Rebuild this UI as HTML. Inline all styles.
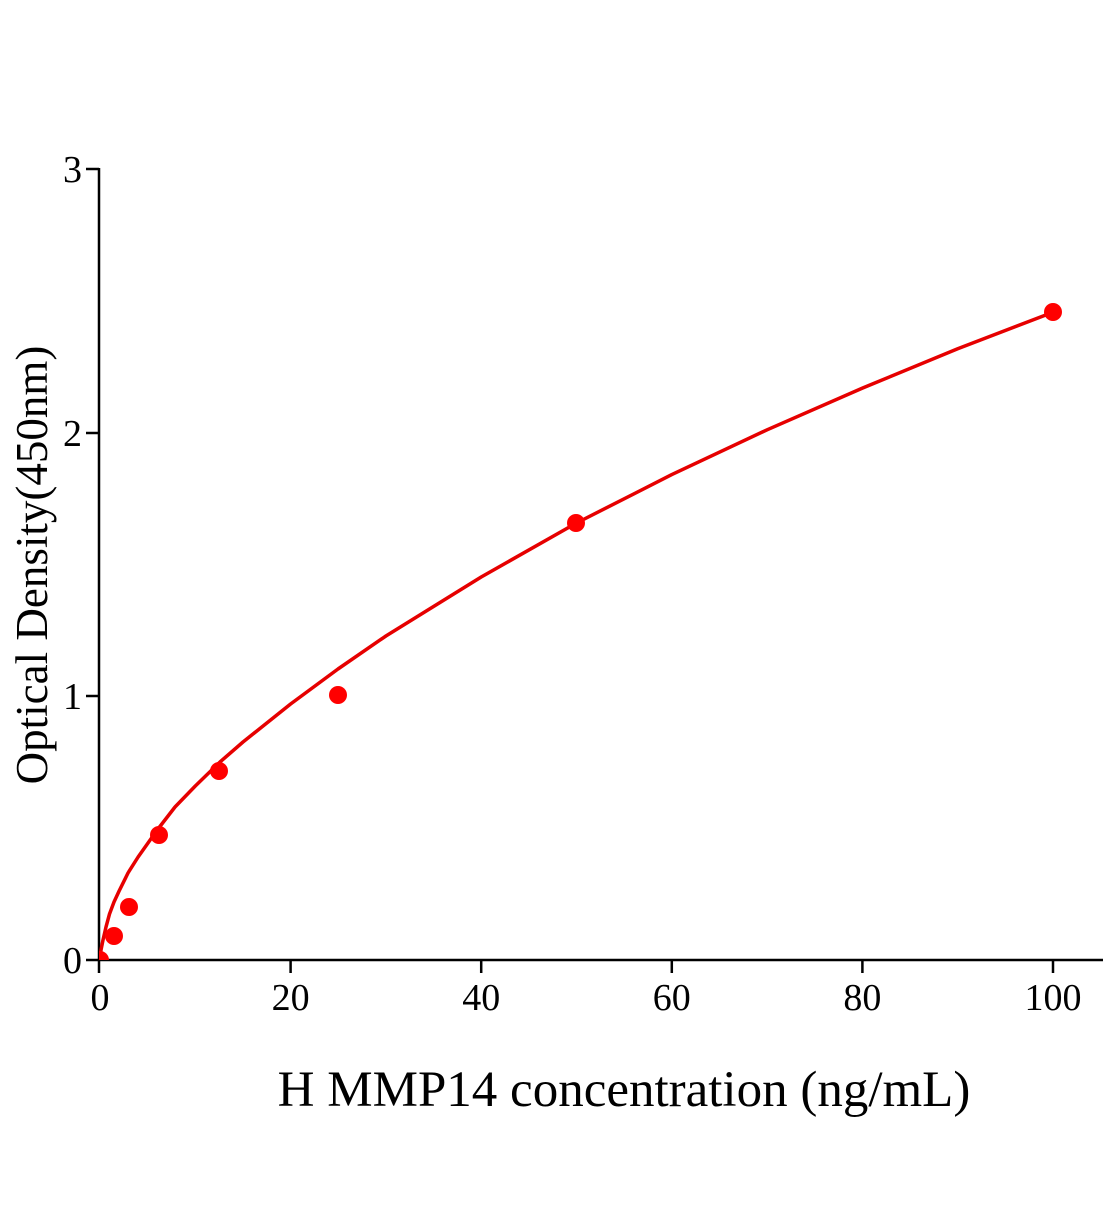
<!DOCTYPE html><html><head><style>body{margin:0;background:#fff}</style></head><body>
<svg width="1104" height="1200" xmlns="http://www.w3.org/2000/svg" font-family="Liberation Serif, serif">
<defs><clipPath id="c"><rect x="99" y="100" width="1010" height="860"/></clipPath></defs>
<g stroke="#000" stroke-width="2.5" fill="none">
<line x1="99" y1="168" x2="99" y2="961"/>
<line x1="86" y1="960" x2="1103" y2="960"/>
<line x1="86" y1="696" x2="99" y2="696"/>
<line x1="86" y1="433" x2="99" y2="433"/>
<line x1="86" y1="169" x2="99" y2="169"/>
<line x1="99" y1="960" x2="99" y2="973"/>
<line x1="290.6" y1="960" x2="290.6" y2="973"/>
<line x1="481.2" y1="960" x2="481.2" y2="973"/>
<line x1="671.8" y1="960" x2="671.8" y2="973"/>
<line x1="862.4" y1="960" x2="862.4" y2="973"/>
<line x1="1053" y1="960" x2="1053" y2="973"/>
</g>
<g font-size="38" text-anchor="end">
<text x="82" y="973">0</text><text x="82" y="709">1</text><text x="82" y="446">2</text><text x="82" y="182">3</text>
</g>
<g font-size="38" text-anchor="middle">
<text x="100" y="1010">0</text><text x="290.6" y="1010">20</text><text x="481.2" y="1010">40</text><text x="671.8" y="1010">60</text><text x="862.4" y="1010">80</text><text x="1053" y="1010">100</text>
</g>
<text x="624" y="1106" font-size="51" text-anchor="middle">H MMP14 concentration (ng/mL)</text>
<text transform="translate(47,565) rotate(-90)" font-size="45" text-anchor="middle">Optical Density(450nm)</text>
<g clip-path="url(#c)">
<polyline fill="none" stroke="#e60000" stroke-width="3.5" stroke-linejoin="round" points="100,960 101,950 103,940 106,927 109.5,914 114,902 119.1,891 128,873 138.1,857 157.2,830 175,807 195.3,786 220,762 243,742 290.6,704 338,669 385.9,636 481.2,577 576.5,523 671.8,474.6 767.1,429.8 862.4,388.1 957.7,348.8 1053,312.2"/>
<circle cx="100" cy="960" r="9" fill="#f00"/>
</g>
<g fill="#f00">
<circle cx="114" cy="936" r="9"/><circle cx="129" cy="907" r="9"/><circle cx="159" cy="835" r="9"/><circle cx="219" cy="771" r="9"/><circle cx="338" cy="695" r="9"/><circle cx="576" cy="523" r="9"/><circle cx="1053" cy="312" r="9"/>
</g>
</svg>
</body></html>
